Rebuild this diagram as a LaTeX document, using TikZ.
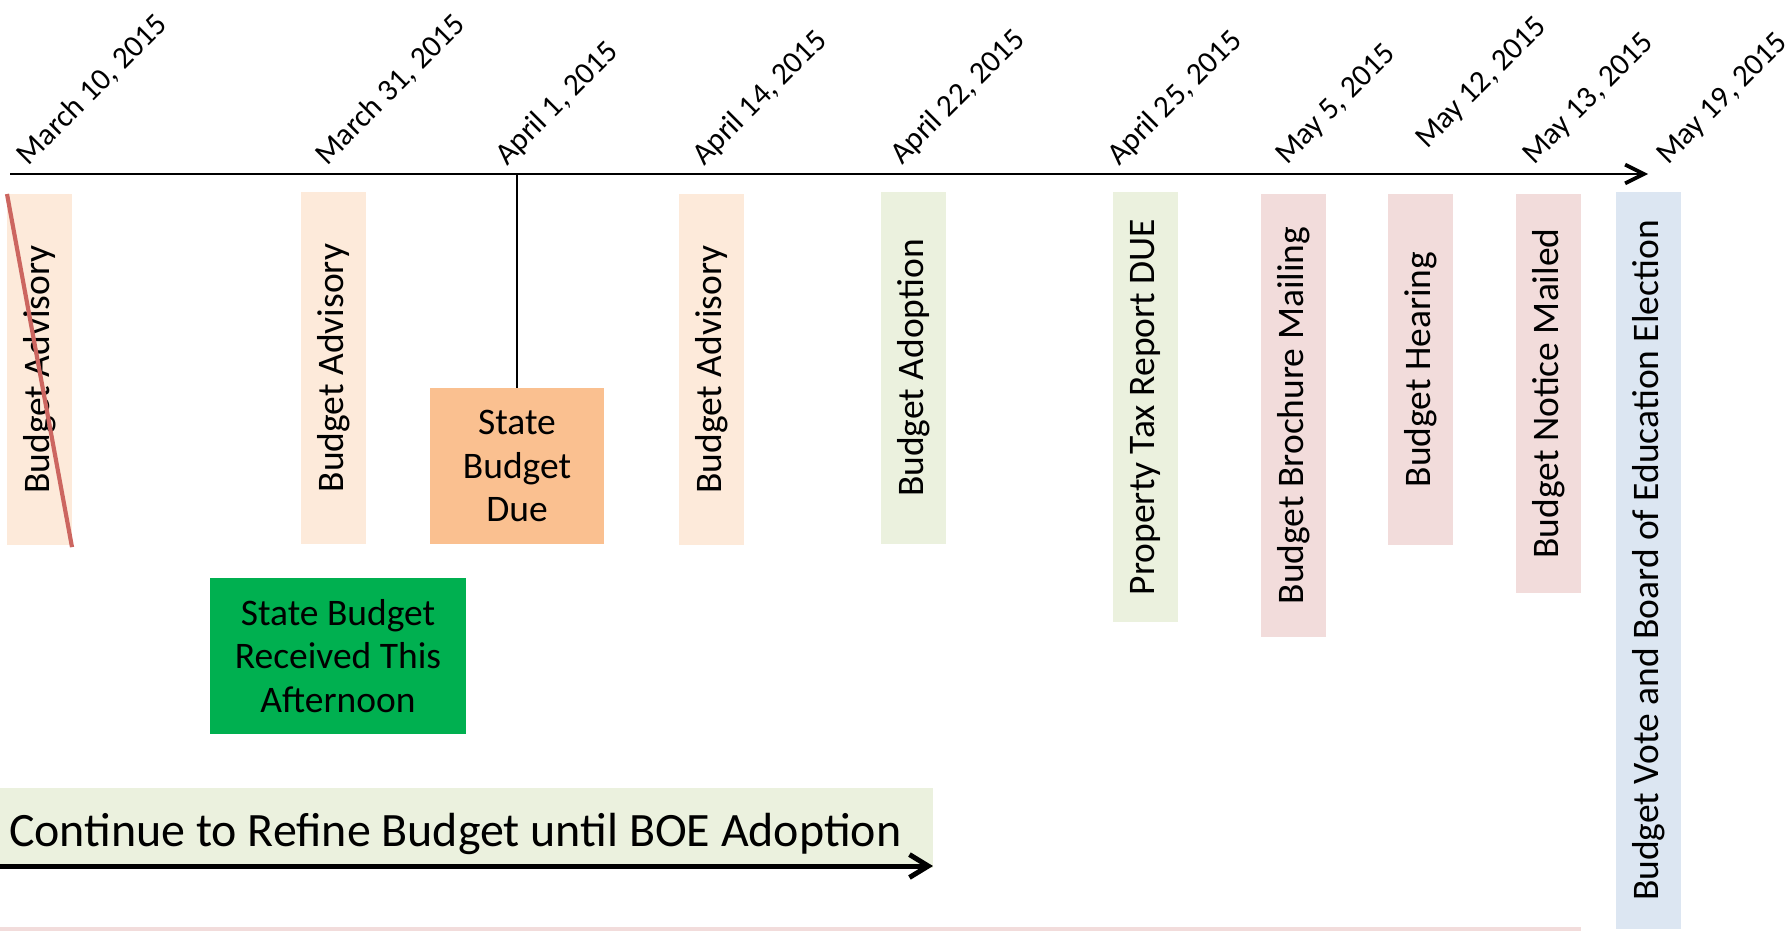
\documentclass[tikz,border=0pt]{standalone}
\usepackage{fontspec}
\setmainfont{Carlito}
\usepackage{xcolor}
\usepackage{tikz}
\usetikzlibrary{calc,arrows.meta}
\definecolor{peach}{HTML}{FDEADA}
\definecolor{sage}{HTML}{EBF1DE}
\definecolor{blush}{HTML}{F2DCDB}
\definecolor{skyblue}{HTML}{DCE6F2}
\definecolor{apricot}{HTML}{FAC090}
\definecolor{leaf}{HTML}{00B050}
\definecolor{strikered}{RGB}{204,102,96}
\tikzset{
	every node/.style={draw=none,rectangle,outer sep=0pt,inner sep=0pt},
	datelabel/.style={rotate=45,anchor=base west,font=\fontsize{14.9}{18}\selectfont},
	event/.style={rotate=90,minimum height=31.2pt,font=\fontsize{18}{21.6}\selectfont},
	callout/.style={align=center,font=\fontsize{18}{20.9}\selectfont},
	timeline/.style={line width=1pt,arrows={-Straight Barb[length=9pt,width=9pt,line width=1.8pt]}},
	refine/.style={line width=2.4pt,arrows={-Straight Barb[length=9pt,width=11pt]}},
	strike/.style={strikered,line width=2pt}
	}

\begin{document}
\begin{tikzpicture}[x=0.48pt,y=-0.48pt]
	\useasboundingbox (0,0) rectangle (1791,931);
	% time axis
	\coordinate (t0) at (10,174);
	\coordinate (t1) at (1648,174);
	\draw[timeline] (t0) -- (t1);

	% dates
	\node[datelabel] (mar10) at (29,166) {March 10, 2015};
	\node[datelabel] (mar31) at (327,166) {March 31, 2015};
	\node[datelabel] (apr01) at (507,166) {April 1, 2015};
	\node[datelabel] (apr14) at (704,166) {April 14, 2015};
	\node[datelabel] (apr22) at (902,165) {April 22, 2015};
	\node[datelabel] (apr25) at (1119,166) {April 25, 2015};
	\node[datelabel] (may05) at (1287,165) {May 5, 2015};
	\node[datelabel] (may12) at (1427,149) {May 12, 2015};
	\node[datelabel] (may13) at (1534,165) {May 13, 2015};
	\node[datelabel] (may19) at (1668,165) {May 19, 2015};

	% events
	\node[event,fill=peach,minimum width=168.5pt] (adv1) at (39.5,369.5) {Budget Advisory};
	\draw[strike] (adv1.north east) -- ([yshift=-1pt]adv1.south west);
	\node[event,fill=peach,minimum width=169pt] (adv2) at (333.5,368) {Budget Advisory};
	\node[event,fill=peach,minimum width=168.5pt] (adv3) at (711.5,369.5) {Budget Advisory};
	\node[event,fill=sage,minimum width=169pt] (adopt) at (913.5,368) {Budget Adoption};
	\node[event,fill=sage,minimum width=206.4pt] (taxrep) at (1145.5,407) {Property Tax Report DUE};
	\node[event,fill=blush,minimum width=212.6pt] (brochure) at (1293.5,415.5) {Budget Brochure Mailing};
	\node[event,fill=blush,minimum width=168.5pt] (hearing) at (1420.5,369.5) {Budget Hearing};
	\node[event,fill=blush,minimum width=191.5pt] (notice) at (1548.5,393.5) {Budget Notice Mailed};
	\node[event,fill=skyblue,minimum width=353.8pt] (vote) at (1648.5,560.5) {Budget Vote and Board of Education Election};

	% state budget
	\node[callout,fill=apricot,minimum width=83.5pt,minimum height=74.9pt] (due) at (517,466) {State\\Budget\\Due};
	\coordinate (apr1) at (517,174);
	\draw[line width=0.7pt] (apr1) -- (due.north);
	\node[callout,fill=leaf,minimum width=122.9pt,minimum height=74.9pt] (recv) at (338,656) {State Budget\\Received This\\Afternoon};

	% refine band
	\node[fill=sage,anchor=north west,minimum width=447.8pt,minimum height=38.4pt] (band) at (0,788) {};
	\node[anchor=base west,font=\fontsize{23}{27}\selectfont] (bandtext) at (9,846) {Continue to Refine Budget until BOE Adoption};
	\coordinate (r0) at (0,866);
	\coordinate (r1) at (933,866);
	\draw[refine] (r0) -- (r1);
	\fill[blush] (0,927) rectangle (1581,931);
\end{tikzpicture}
\end{document}
